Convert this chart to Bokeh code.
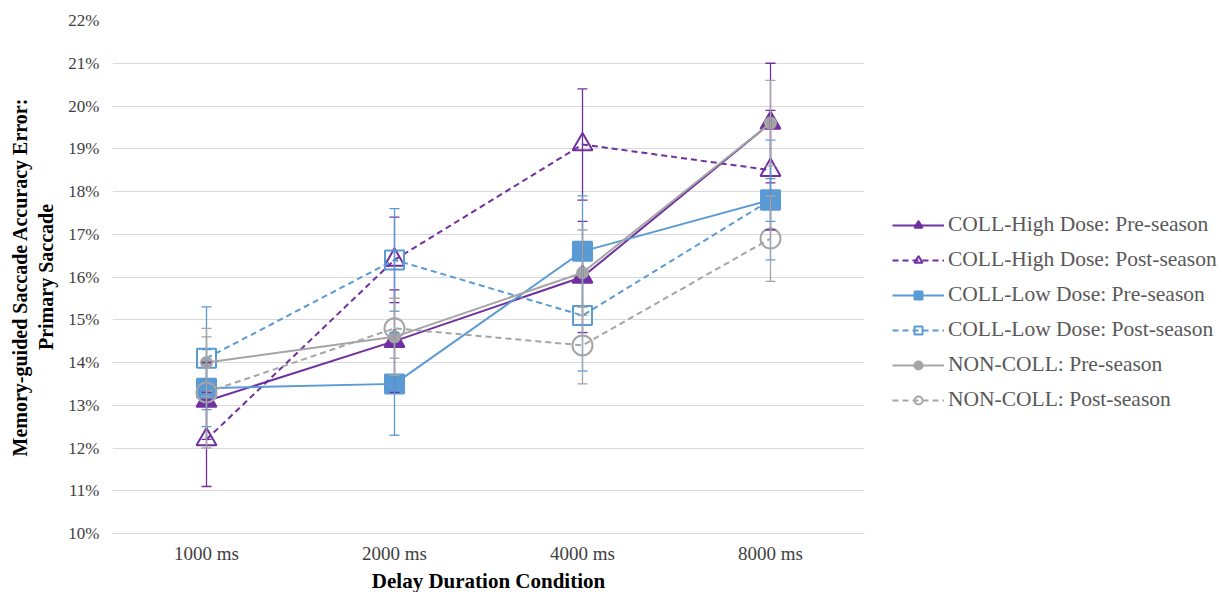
from bokeh.plotting import figure
from bokeh.models import (FactorRange, FixedTicker, PrintfTickFormatter, ColumnDataSource,
                          Whisker, TeeHead, Legend, LegendItem)
from bokeh.embed import file_html
from bokeh.resources import INLINE

categories = ["1000 ms", "2000 ms", "4000 ms", "8000 ms"]

series_names = [
    "COLL-High Dose: Pre-season",
    "COLL-High Dose: Post-season",
    "COLL-Low Dose: Pre-season",
    "COLL-Low Dose: Post-season",
    "NON-COLL: Pre-season",
    "NON-COLL: Post-season",
]

high_pre = [13.1, 14.5, 16.0, 19.6]
high_post = [12.2, 16.4, 19.1, 18.5]
low_pre = [13.4, 13.5, 16.6, 17.8]
low_post = [14.1, 16.4, 15.1, 17.8]
non_pre = [14.0, 14.6, 16.1, 19.6]
non_post = [13.3, 14.8, 14.4, 16.9]

high_pre_err = [0.9, 1.2, 1.3, 1.4]
high_post_err = [1.1, 1.0, 1.3, 1.4]
low_pre_err = [0.9, 1.2, 1.3, 0.5]
low_post_err = [1.2, 1.2, 1.3, 1.4]
non_pre_err = [0.8, 0.9, 1.0, 1.0]
non_post_err = [1.3, 0.7, 0.9, 1.0]

y_ticks = list(range(10, 23))

PURPLE = "#7030A0"
BLUE = "#5B9BD5"
GRAY = "#A5A5A5"
FONT = "Liberation Serif"

p = figure(x_range=FactorRange(*categories, range_padding=0), y_range=(10, 22),
           frame_width=752, frame_height=513, output_backend="svg", toolbar_location=None,
           min_border_left=112, min_border_top=20, min_border_bottom=0, min_border_right=0)
p.outline_line_color = None
p.background_fill_color = "white"
p.border_fill_color = "white"

p.yaxis.ticker = FixedTicker(ticks=y_ticks)
p.yaxis.formatter = PrintfTickFormatter(format="%d%%")
p.yaxis.axis_line_color = None
p.yaxis.major_tick_line_color = None
p.yaxis.minor_tick_line_color = None
p.yaxis.major_label_text_font = FONT
p.yaxis.major_label_text_font_size = "17px"
p.yaxis.major_label_text_color = "#404040"
p.yaxis.major_label_standoff = 7
p.yaxis.axis_label = "Memory-guided Saccade Accuracy Error:\nPrimary Saccade"
p.yaxis.axis_label_text_font = FONT
p.yaxis.axis_label_text_font_size = "20px"
p.yaxis.axis_label_text_font_style = "bold"
p.yaxis.axis_label_text_color = "black"
p.yaxis.axis_label_standoff = 8

p.xaxis.axis_line_color = "#D9D9D9"
p.xaxis.major_tick_line_color = None
p.xaxis.minor_tick_line_color = None
p.xaxis.major_label_text_font = FONT
p.xaxis.major_label_text_font_size = "19px"
p.xaxis.major_label_text_color = "#404040"
p.xaxis.major_label_standoff = 3
p.xaxis.axis_label = "Delay Duration Condition"
p.xaxis.axis_label_text_font = FONT
p.xaxis.axis_label_text_font_size = "21px"
p.xaxis.axis_label_text_font_style = "bold"
p.xaxis.axis_label_text_color = "black"
p.xaxis.axis_label_standoff = 2

p.xgrid.grid_line_color = None
p.ygrid.grid_line_color = "#D9D9D9"
p.ygrid.grid_line_width = 1

specs = [
    (high_pre, high_pre_err, PURPLE, "solid", "triangle", True, 20),
    (high_post, high_post_err, PURPLE, "dashed", "triangle", False, 20),
    (low_pre, low_pre_err, BLUE, "solid", "square", True, 19),
    (low_post, low_post_err, BLUE, "dashed", "square", False, 19),
    (non_pre, non_pre_err, GRAY, "solid", "circle", True, 11),
    (non_post, non_post_err, GRAY, "dashed", "circle", False, 20),
]

items = []
for name, (vals, errs, color, dash, marker, filled, size) in zip(series_names, specs):
    src = ColumnDataSource(dict(
        x=categories, y=vals,
        upper=[v + e for v, e in zip(vals, errs)],
        lower=[v - e for v, e in zip(vals, errs)],
    ))
    w = Whisker(base="x", upper="upper", lower="lower", source=src,
                line_color=color, line_width=1.3, level="glyph",
                upper_head=TeeHead(size=10, line_color=color, line_width=1.3),
                lower_head=TeeHead(size=10, line_color=color, line_width=1.3))
    p.add_layout(w)
    ln = p.line("x", "y", source=src, line_color=color, line_width=2,
                line_dash="6 4" if dash == "dashed" else "solid")
    sc = p.scatter("x", "y", source=src, marker=marker, size=size,
                   line_color=color, line_width=2,
                   fill_color=color if filled else "white",
                   fill_alpha=1.0 if filled else 0.0)
    items.append(LegendItem(label=name, renderers=[ln, sc]))

legend = Legend(items=items, location=(28, 121), orientation="vertical",
                label_text_font=FONT, label_text_font_size="21.5px",
                label_text_color="#595959", glyph_width=52, glyph_height=20,
                label_height=22, spacing=10, label_standoff=4,
                border_line_color=None, background_fill_alpha=0,
                padding=0, margin=0)
p.add_layout(legend, "right")

open("out.html", "w").write(file_html(p, INLINE))
